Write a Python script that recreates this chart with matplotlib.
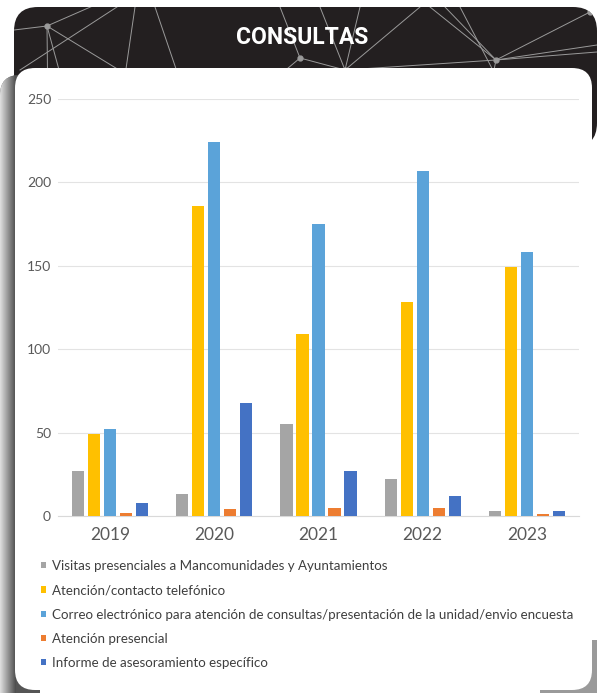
import matplotlib
matplotlib.use("Agg")
import matplotlib.pyplot as plt
import numpy as np
from matplotlib.patches import FancyBboxPatch

plt.rcParams['font.family'] = ['Lato', 'DejaVu Sans']

# datos
anios = ['2019', '2020', '2021', '2022', '2023']
visitas = [27, 13, 55, 22, 3]
telefono = [49, 186, 109, 128, 149]
correo = [52, 224, 175, 207, 158]
presencial = [2, 4, 5, 5, 1]
informe = [8, 68, 27, 12, 3]

series = [
    ('Visitas presenciales a Mancomunidades y Ayuntamientos', visitas, '#a5a5a5'),
    ('Atención/contacto telefónico', telefono, '#ffc000'),
    ('Correo electrónico para atención de consultas/presentación de la unidad/envio encuesta', correo, '#5ba3d9'),
    ('Atención presencial', presencial, '#ed7d31'),
    ('Informe de asesoramiento específico', informe, '#4472c4'),
]

W, H = 597, 693
fig = plt.figure(figsize=(W / 100, H / 100), dpi=100)

# fondo: cabecera oscura, sombra y tarjeta blanca (en pixeles)
bg = fig.add_axes([0, 0, 1, 1], zorder=0)
bg.set_xlim(0, W)
bg.set_ylim(H, 0)
bg.axis('off')

cabecera = FancyBboxPatch((14, 7), W - 14, 140, boxstyle='round,pad=0,rounding_size=24',
                          fc='#231f20', ec='none', zorder=1)
bg.add_patch(cabecera)

# lineas decorativas de la cabecera
nodos = [(47, 26), (300, 58), (345, 70), (496, 60), (590, 12), (160, 95)]
segmentos = [
    ((14, 30), (47, 26)), ((47, 26), (95, 5)), ((47, 26), (48, 120)), ((47, 26), (160, 95)),
    ((47, 26), (70, 110)), ((20, 70), (120, 5)), ((135, 7), (120, 110)), ((155, 7), (190, 110)),
    ((160, 95), (14, 78)), ((300, 58), (280, 7)), ((300, 58), (345, 70)), ((300, 58), (250, 100)),
    ((320, 7), (345, 70)), ((345, 70), (360, 7)), ((345, 70), (420, 7)), ((345, 70), (496, 60)),
    ((430, 7), (496, 60)), ((445, 7), (496, 60)), ((460, 7), (498, 80)), ((496, 60), (590, 12)),
    ((496, 60), (597, 45)), ((496, 60), (597, 52)), ((490, 90), (496, 60)),
]
for (x1, y1), (x2, y2) in segmentos:
    ln, = bg.plot([x1, x2], [y1, y2], color='#9a9a9a', lw=0.7, zorder=2)
    ln.set_clip_path(cabecera)
for x, y in nodos:
    p, = bg.plot(x, y, 'o', color='#9a9a9a', ms=3.5, zorder=2)
    p.set_clip_path(cabecera)

# sombra gris a la izquierda y abajo a la derecha de la tarjeta
sombra = FancyBboxPatch((0, 75), 40, H - 75 + 30, boxstyle='round,pad=0,rounding_size=20',
                        fc='#555555', ec='none', zorder=3)
bg.add_patch(sombra)
grad = np.linspace(0.88, 0.3, 64).reshape(1, -1)
im = bg.imshow(grad, cmap='gray', vmin=0, vmax=1, extent=(0, 16, H, 75), aspect='auto', zorder=3.5)
im.set_clip_path(sombra)
bg.add_patch(FancyBboxPatch((540, 640), 80, 80, boxstyle='round,pad=0,rounding_size=20',
                            fc='#9a9a9a', ec='none', zorder=3))

tarjeta = FancyBboxPatch((15, 68), 577, 622, boxstyle='round,pad=0,rounding_size=20',
                         fc='white', ec='none', zorder=4)
bg.add_patch(tarjeta)

bg.text(302, 37, 'CONSULTAS', color='white', fontsize=16.5, fontweight='bold',
        family=['Roboto', 'DejaVu Sans'], ha='center', va='center', zorder=5)

# grafico de barras
ax = fig.add_axes([58 / W, (H - 516) / H, 521 / W, 417 / H], zorder=1)
ax.set_facecolor('none')
x = np.arange(len(anios))
paso = 0.1535
ancho = 0.118
for j, (nombre, valores, color) in enumerate(series):
    ax.bar(x + (j - 2) * paso, valores, ancho, color=color, label=nombre, zorder=3)

ax.set_xlim(-0.5, len(anios) - 0.5)
ax.set_ylim(0, 250)
ax.set_yticks(range(0, 251, 50))
ax.set_xticks(x)
ax.set_xticklabels(anios)
ax.grid(axis='y', color='#e3e3e3', lw=0.8, zorder=0)
for s in ['top', 'left', 'right']:
    ax.spines[s].set_visible(False)
ax.spines['bottom'].set_color('#d9d9d9')
ax.tick_params(axis='y', length=0, pad=5, labelsize=10, labelcolor='#595959')
ax.tick_params(axis='x', length=0, pad=8, labelsize=12.5, labelcolor='#595959')

leg = fig.legend(loc='upper left', bbox_to_anchor=(41 / W, 1 - 560 / H), frameon=False,
                 fontsize=9.6, handlelength=0.35, handleheight=0.35, handletextpad=0.45,
                 labelspacing=0.92, borderaxespad=0, borderpad=0)
for t in leg.get_texts():
    t.set_color('#3f3f3f')

fig.savefig('out.png', dpi=100)
